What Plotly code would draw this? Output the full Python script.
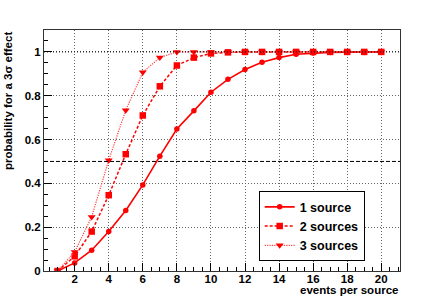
import plotly.graph_objects as go

events = list(range(1, 21))
p1 = [0.0, 0.037, 0.095, 0.18, 0.276, 0.393, 0.524, 0.648, 0.731, 0.816,
      0.875, 0.92, 0.953, 0.974, 0.989, 0.995, 0.998, 0.999, 1.0, 1.0]
p2 = [0.0, 0.067, 0.18, 0.346, 0.533, 0.71, 0.843, 0.938, 0.974, 0.993,
      0.998, 1.0, 1.0, 1.0, 1.0, 1.0, 1.0, 1.0, 1.0, 1.0]
p3 = [0.0, 0.087, 0.247, 0.506, 0.734, 0.907, 0.974, 1.0, 1.0, 1.0,
      1.0, 1.0, 1.0, 1.0, 1.0, 1.0, 1.0, 1.0, 1.0, 1.0]
names = ["1 source", "2 sources", "3 sources"]

FONT = "Liberation Sans, Arial, sans-serif"
RED = "#ff0000"

fig = go.Figure()
fig.add_trace(go.Scatter(x=events, y=p1, name=names[0], mode="lines+markers",
                         line=dict(color=RED, width=1.6, dash="solid"),
                         marker=dict(symbol="circle", size=5.5, color=RED)))
fig.add_trace(go.Scatter(x=events, y=p2, name=names[1], mode="lines+markers",
                         line=dict(color=RED, width=1.5, dash="3px,2px"),
                         marker=dict(symbol="square", size=6.5, color=RED)))
fig.add_trace(go.Scatter(x=events, y=p3, name=names[2], mode="lines+markers",
                         line=dict(color="#ff4040", width=1.2, dash="1.2px,1.2px"),
                         marker=dict(symbol="triangle-down", size=7, color=RED)))

# reference lines
fig.add_shape(type="line", xref="paper", x0=0, x1=1, yref="y", y0=0.5, y1=0.5,
              line=dict(color="black", width=1, dash="4px,2px"))
fig.add_shape(type="line", xref="paper", x0=0, x1=1, yref="y", y0=1.0, y1=1.0,
              line=dict(color="black", width=1, dash="1px,2px"))

fig.update_layout(
    width=445, height=301,
    margin=dict(l=44, r=45, t=30, b=30),
    paper_bgcolor="white", plot_bgcolor="white",
    font=dict(family=FONT, size=11.5, color="black"),
    showlegend=True,
    legend=dict(x=0.603, y=0.331, xanchor="left", yanchor="top",
                bgcolor="white", bordercolor="black", borderwidth=1,
                font=dict(family=FONT, size=12.5, color="black", weight="bold"),
                tracegroupgap=0),
    xaxis=dict(range=[0.2, 21.1], tick0=0, dtick=2, ticks="inside", ticklen=8,
               tickcolor="black", showline=True, linecolor="#333", linewidth=1,
               mirror=True, showgrid=True, gridcolor="#666", griddash="1px,2px",
               gridwidth=1, zeroline=False, ticklabelstandoff=-3,
               tickfont=dict(family=FONT, size=11.5, weight="bold"),
               minor=dict(dtick=0.5, tick0=0, ticks="inside", ticklen=4,
                          tickcolor="black", showgrid=False)),
    yaxis=dict(range=[0, 1.1], tick0=0, dtick=0.2, ticks="inside", ticklen=8,
               tickcolor="black", showline=True, linecolor="#333", linewidth=1,
               mirror=True, showgrid=True, gridcolor="#666", griddash="1px,2px",
               gridwidth=1, zeroline=False,
               tickfont=dict(family=FONT, size=11.5, weight="bold"),
               minor=dict(dtick=0.05, tick0=0, ticks="inside", ticklen=4,
                          tickcolor="black", showgrid=False)),
)

fig.add_annotation(text="probability for a 3σ effect", textangle=-90,
                   xref="paper", yref="paper", x=0, y=1, xanchor="center",
                   yanchor="top", xshift=-36, showarrow=False,
                   font=dict(family=FONT, size=11.5, weight="bold"))
fig.add_annotation(text="events per source", xref="paper", yref="paper",
                   x=1, y=0, xanchor="right", yanchor="top", yshift=-11,
                   showarrow=False,
                   font=dict(family=FONT, size=11.5, weight="bold"))

fig.write_html("out.html", config={"displayModeBar": False},
               post_script="document.body.style.margin='0';document.body.style.overflow='hidden';")
